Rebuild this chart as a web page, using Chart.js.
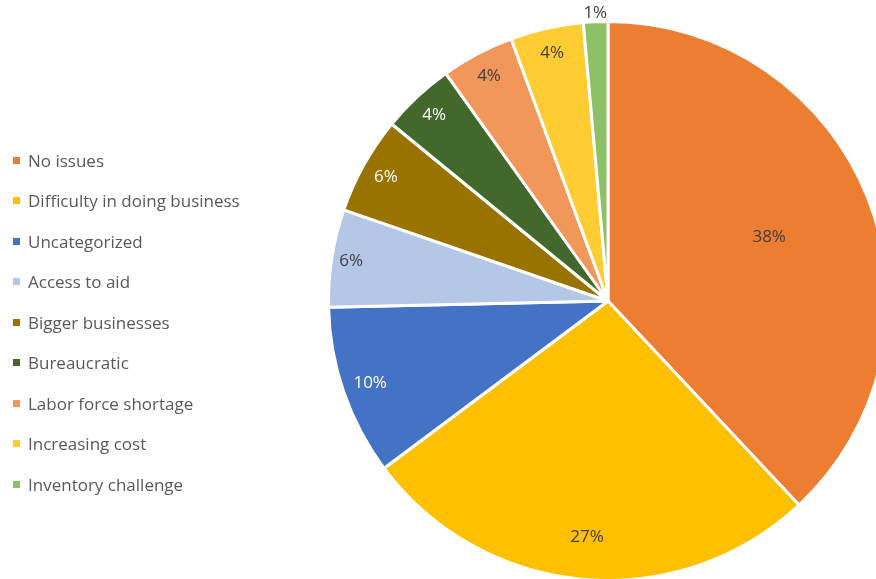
<!DOCTYPE html>
<html>
<head>
<meta charset="utf-8">
<script src="https://cdn.jsdelivr.net/npm/chart.js@4/dist/chart.umd.min.js"></script>
<style>
    body { margin: 0; background: #fff; }
    #frame { position: relative; width: 876px; height: 579px; overflow: hidden; }
    #pieBox { position: absolute; left: 0; top: 0; width: 900px; height: 600px; }
    #legend { position: absolute; left: 13px; top: 0; font-family: 'Open Sans', sans-serif; font-size: 17px; color: #595959; }
    .legendItem { position: absolute; white-space: nowrap; display: flex; align-items: center; height: 20px; }
    .legendBox { width: 7px; height: 7px; margin-right: 8px; }
</style>
</head>
<body>
<div id="frame">
    <div id="pieBox"><canvas id="myChart" width="900" height="600"></canvas></div>
    <div id="legend"></div>
</div>
<script>
// Chart data
let categories = ['No issues', 'Difficulty in doing business', 'Uncategorized', 'Access to aid', 'Bigger businesses', 'Bureaucratic', 'Labor force shortage', 'Increasing cost', 'Inventory challenge'];
let responses = [54, 38, 14, 8, 8, 6, 6, 6, 2];
let sliceColors = ['#ED7D31', '#FFC000', '#4472C4', '#B4C7E7', '#997300', '#43682B', '#F1975A', '#FFCD33', '#8CC168'];
let labelColors = ['#404040', '#404040', '#ffffff', '#404040', '#ffffff', '#ffffff', '#404040', '#404040', '#404040'];
let labelRadius = [0.62, 0.85, 0.9, 0.93, 0.91, 0.91, 0.91, 0.91, 1.03];

let legendParent = document.getElementById('legend');

// Function to build the legend on the left
buildLegend = () => {
    categories.forEach((name, i) => {
        let item = document.createElement('div');
        item.className = 'legendItem';
        item.style.top = (150 + i * 40.5) + 'px';
        item.innerHTML = `<span class='legendBox' style='background:${sliceColors[i]}'></span><span>${name}</span>`;
        legendParent.appendChild(item);
    });
}

// Plugin to write the percentage on each slice
let sliceLabels = {
    id: 'sliceLabels',
    afterDatasetsDraw: (chart) => {
        let ctx = chart.ctx;
        let total = responses.reduce((a, b) => a + b, 0);
        let meta = chart.getDatasetMeta(0);
        ctx.save();
        ctx.font = '17px "Open Sans", sans-serif';
        ctx.textAlign = 'center';
        ctx.textBaseline = 'middle';
        meta.data.forEach((arc, i) => {
            let mid = (arc.startAngle + arc.endAngle) / 2;
            let r = arc.outerRadius * labelRadius[i];
            let x = arc.x + Math.cos(mid) * r;
            let y = arc.y + Math.sin(mid) * r;
            ctx.fillStyle = labelColors[i];
            ctx.fillText(Math.round(responses[i] / total * 100) + '%', x, y);
        });
        ctx.restore();
    }
};

// Function to draw the pie chart
createPie = () => {
    let ctx = document.getElementById('myChart').getContext('2d');
    let chart = new Chart(ctx, {
        type: 'pie',
        data: {
            labels: categories,
            datasets: [{
                data: responses,
                backgroundColor: sliceColors,
                borderColor: '#ffffff',
                borderWidth: 3
            }]
        },
        options: {
            responsive: false,
            animation: false,
            layout: { padding: { left: 326, right: 10, top: 20, bottom: 18 } },
            plugins: {
                legend: { display: false },
                tooltip: { enabled: false }
            }
        },
        plugins: [sliceLabels]
    });
}

buildLegend();
createPie();
</script>
</body>
</html>
